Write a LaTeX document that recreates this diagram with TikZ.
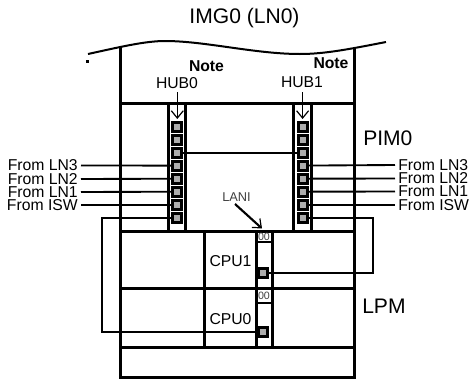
\documentclass[tikz,border=0pt]{standalone}
\usepackage{fontspec}
\setmainfont{Liberation Sans}
\usetikzlibrary{arrows.meta}
\tikzset{
  wall/.style={line width=2.25pt,line cap=rect},
  thin wall/.style={line width=1.5pt},
  wire/.style={line width=1.4pt},
  lbl/.style={inner sep=0pt,font=\fontsize{11.8}{12}\selectfont},
  big/.style={inner sep=0pt,font=\fontsize{15.8}{17}\selectfont},
  small/.style={inner sep=0pt,font=\fontsize{9.6}{10}\selectfont,text=black!75},
  tiny label/.style={inner sep=0pt,font=\fontsize{8}{9}\selectfont,text=black!75},
  port/.style={draw=black,line width=2.25pt,fill=black!32,minimum size=6.75pt,inner sep=0pt,outer sep=0pt},
  tip/.style={-{Straight Barb[length=5.5pt,width=9pt,line width=.9pt]},line width=1.2pt},
}
\begin{document}
\begin{tikzpicture}[x=0.75pt,y=-0.75pt]
\useasboundingbox (0,0) rectangle (469,379);
% top wavy line
\coordinate (w0) at (88,54);
\coordinate (w1) at (386,42);
\draw[line width=1.5pt] (w0) .. controls (120,47) and (145,41) .. (165,41)
  .. controls (205,41) and (255,54) .. (300,54)
  .. controls (325,54) and (350,49) .. (w1);
\fill (86,59.5) rectangle (89,62.5);
% strips
\draw[wall] (168.5,103) -- (168.5,231);
\draw[wall] (185,103) -- (185,231);
\draw[wall] (293.5,103) -- (293.5,231);
\draw[wall] (311,103) -- (311,231);
% cpu columns
\draw[wall] (204.5,231) -- (204.5,347);
\draw[wall] (256,231) -- (256,347);
\draw[wall] (272.5,231) -- (272.5,347);
% outer frame and horizontals
\draw[wall] (120.5,48) -- (120.5,377) -- (354.5,377) -- (354.5,48);
\draw[wall] (120.5,103) -- (354.5,103);
\draw[wall] (120.5,231) -- (354.5,231);
\draw[wall] (120.5,288.5) -- (354.5,288.5);
\draw[wall] (120.5,347) -- (354.5,347);
\draw[thin wall] (256,242) -- (272.5,242);
\draw[thin wall] (256,302.5) -- (272.5,302.5);
% ports
\foreach \n/\y in {1/126.7,2/139.5,3/152.7,4/165.6,5/178.7,6/191.7,7/205,8/218}{
  \node[port] (a\n) at (177.3,\y) {};
  \node[port] (b\n) at (302.6,\y) {};
}
\node[port] (c1) at (263.4,272.7) {};
\node[port] (c0) at (263.4,331.7) {};
% text
\node[big] at (244.5,18) {IMG0 (LN0)};
\node[big,anchor=west] at (363,138) {PIM0};
\node[big,anchor=west] at (362,306) {LPM};
\node[lbl,font=\fontsize{11.8}{12}\selectfont\bfseries] at (206.5,66) {Note};
\node[lbl,font=\fontsize{11.8}{12}\selectfont\bfseries] at (331,63.5) {Note};
\node[lbl] (hub0) at (177,83) {HUB0};
\node[lbl] (hub1) at (302,82.5) {HUB1};
\node[lbl,anchor=east] (l3) at (78,165.5) {From LN3};
\node[lbl,anchor=east] (l2) at (78,179) {From LN2};
\node[lbl,anchor=east] (l1) at (78,192) {From LN1};
\node[lbl,anchor=east] (l0) at (78,205) {From ISW};
\node[lbl,anchor=west] (r3) at (398,165) {From LN3};
\node[lbl,anchor=west] (r2) at (398,178.5) {From LN2};
\node[lbl,anchor=west] (r1) at (398,191.5) {From LN1};
\node[lbl,anchor=west] (r0) at (398,205) {From ISW};
\node[lbl] at (230.5,261) {CPU1};
\node[lbl] at (230.5,319) {CPU0};
\node[small] (lani) at (236.5,197) {LANI};
\node[tiny label] at (264,236.5) {00};
\node[tiny label] at (264,295.5) {00};
% connectors
\draw[tip] (177.3,92) -- (177.3,119);
\draw[tip] (302.6,92) -- (302.6,119);
\draw[wire] (a3) -- (b3);
\draw[wire] (l3.east) ++(3,0) -- (a4);
\draw[wire] (l2.east) ++(3,0) -- (a5);
\draw[wire] (l1.east) ++(3,0) -- (a6);
\draw[wire] (l0.east) ++(3,0) -- (a7);
\draw[wire] (r3.west) ++(-3,0) -- (b4);
\draw[wire] (r2.west) ++(-3,0) -- (b5);
\draw[wire] (r1.west) ++(-3,0) -- (b6);
\draw[wire] (r0.west) ++(-3,0) -- (b7);
\draw[wire] (a8) -- (102,218) -- (102,331.7) -- (c0);
\draw[wire] (b8) -- (373,218) -- (373,272.7) -- (c1);
\draw[tip,line width=1.6pt] (235,204) -- (262,228.5);
% redraw ports above wires
\foreach \n/\y in {1/126.7,2/139.5,3/152.7,4/165.6,5/178.7,6/191.7,7/205,8/218}{
  \node[port] at (177.3,\y) {};
  \node[port] at (302.6,\y) {};
}
\node[port] at (263.4,272.7) {};
\node[port] at (263.4,331.7) {};
\end{tikzpicture}
\end{document}
